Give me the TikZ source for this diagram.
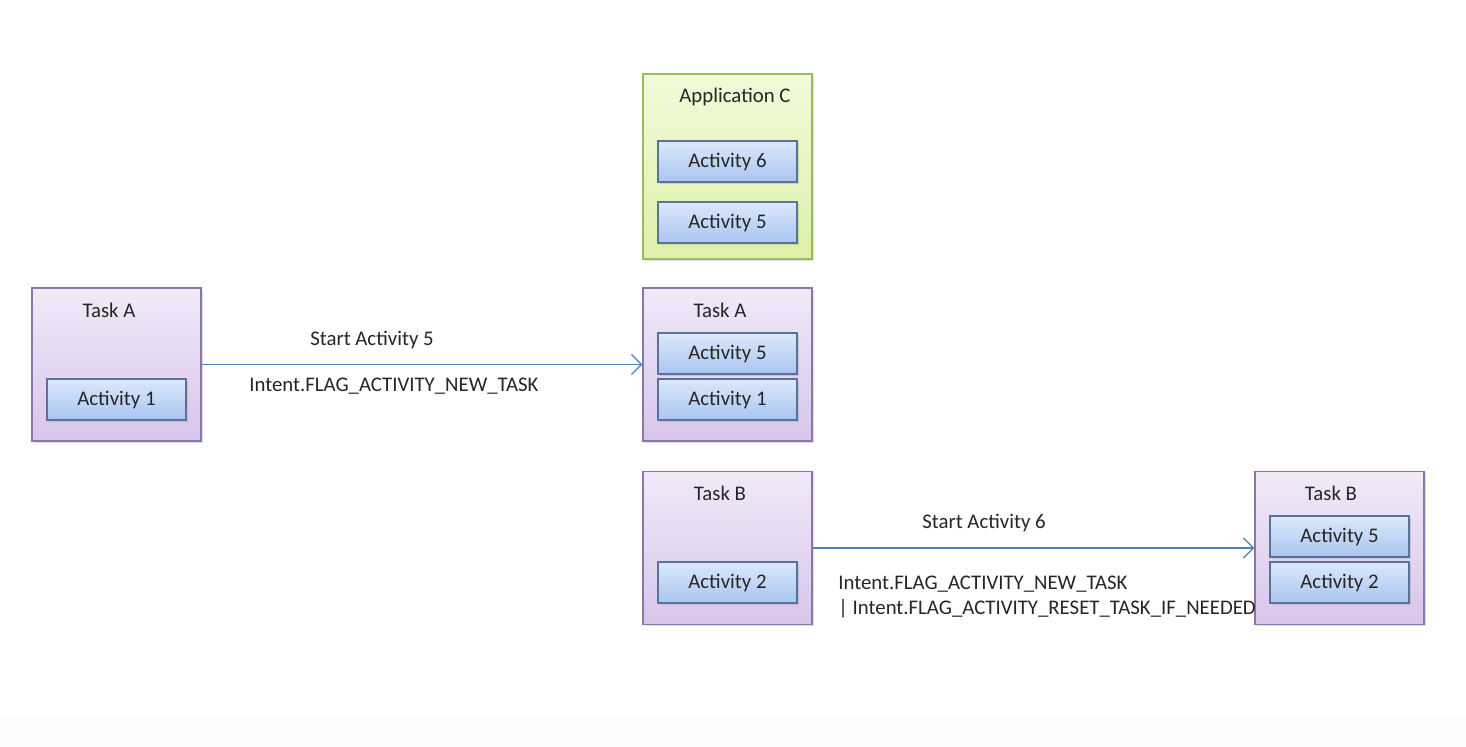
\documentclass[tikz,border=0pt]{standalone}
\usepackage{fontspec}
\setmainfont{Carlito}
\usetikzlibrary{arrows.meta,shadows}
\definecolor{taskedge}{HTML}{8A76A8}
\definecolor{tasktop}{HTML}{F1E9F8}
\definecolor{taskbot}{HTML}{D8C5EA}
\definecolor{appedge}{HTML}{9BBB59}
\definecolor{apptop}{HTML}{F2FAD9}
\definecolor{appbot}{HTML}{DDF0A8}
\definecolor{actedge}{HTML}{5B7396}
\definecolor{acttop}{HTML}{DCE8FB}
\definecolor{actbot}{HTML}{A9C5F1}
\definecolor{flow}{HTML}{4F81BD}
\tikzset{
  every node/.style={font=\fontsize{10.4pt}{12pt}\selectfont, text=black!85},
  shade box/.style={draw, line width=0.7pt, drop shadow={opacity=0.25, shadow xshift=0.8pt, shadow yshift=-0.8pt}},
  taskbox/.style={shade box, draw=taskedge, top color=tasktop, bottom color=taskbot,
    minimum width=84.5pt, minimum height=76.5pt, inner sep=0pt},
  appbox/.style={shade box, draw=appedge, top color=apptop, bottom color=appbot,
    minimum width=84.5pt, minimum height=92.5pt, inner sep=0pt},
  actbox/.style={shade box, draw=actedge, top color=acttop, bottom color=actbot,
    minimum width=69.5pt, minimum height=20.5pt, inner sep=0pt},
  flowarrow/.style={draw=flow, line width=0.6pt, -{Straight Barb[length=5pt,width=10pt]}},
  caption/.style={inner sep=0pt}
}
\begin{document}
\begin{tikzpicture}[x=0.5pt,y=-0.5pt]
\useasboundingbox (0,0) rectangle (1466,746);
\fill[white] (0,0) rectangle (1466,746);
\fill[black!1] (0,718) rectangle (1466,746);

% Application C
\node[appbox] (appC) at (727.5,166.5) {};
\node[caption] (appCl) at (735,97) {Application C};
\node[actbox] (c6) at (727.5,161.5) {Activity 6};
\node[actbox] (c5) at (727.5,222.5) {Activity 5};

% Task A before
\node[taskbox] (tA1) at (116.5,364.5) {};
\node[caption] (tA1l) at (109,310) {Task A};
\node[actbox] (tA1a1) at (116.5,399.5) {Activity 1};

% Task A after
\node[taskbox] (tA2) at (727.5,364.5) {};
\node[caption] (tA2l) at (720,310) {Task A};
\node[actbox] (tA2a5) at (727.5,353.5) {Activity 5};
\node[actbox] (tA2a1) at (727.5,399.5) {Activity 1};

% Task B before
\node[taskbox] (tB1) at (727.5,548) {};
\node[caption] (tB1l) at (720,493) {Task B};
\node[actbox] (tB1a2) at (727.5,582.5) {Activity 2};

% Task B after
\node[taskbox] (tB2) at (1339.5,548) {};
\node[caption] (tB2l) at (1331,493) {Task B};
\node[actbox] (tB2a5) at (1339.5,536.5) {Activity 5};
\node[actbox] (tB2a2) at (1339.5,582.5) {Activity 2};

% transitions
\draw[flowarrow] (tA1.east) -- (tA2.west);
\node[caption] (s5) at (372,340) {Start Activity 5};
\node[caption] (f1) at (394,386) {Intent.FLAG\_ACTIVITY\_NEW\_TASK};

\draw[flowarrow] (tB1.east) -- (tB2.west);
\node[caption] (s6) at (984,523) {Start Activity 6};
\node[caption, anchor=west] (f2) at (838,584) {Intent.FLAG\_ACTIVITY\_NEW\_TASK};
\node[caption, anchor=west] (f3) at (838,609) {| Intent.FLAG\_ACTIVITY\_RESET\_TASK\_IF\_NEEDED};
\end{tikzpicture}
\end{document}
